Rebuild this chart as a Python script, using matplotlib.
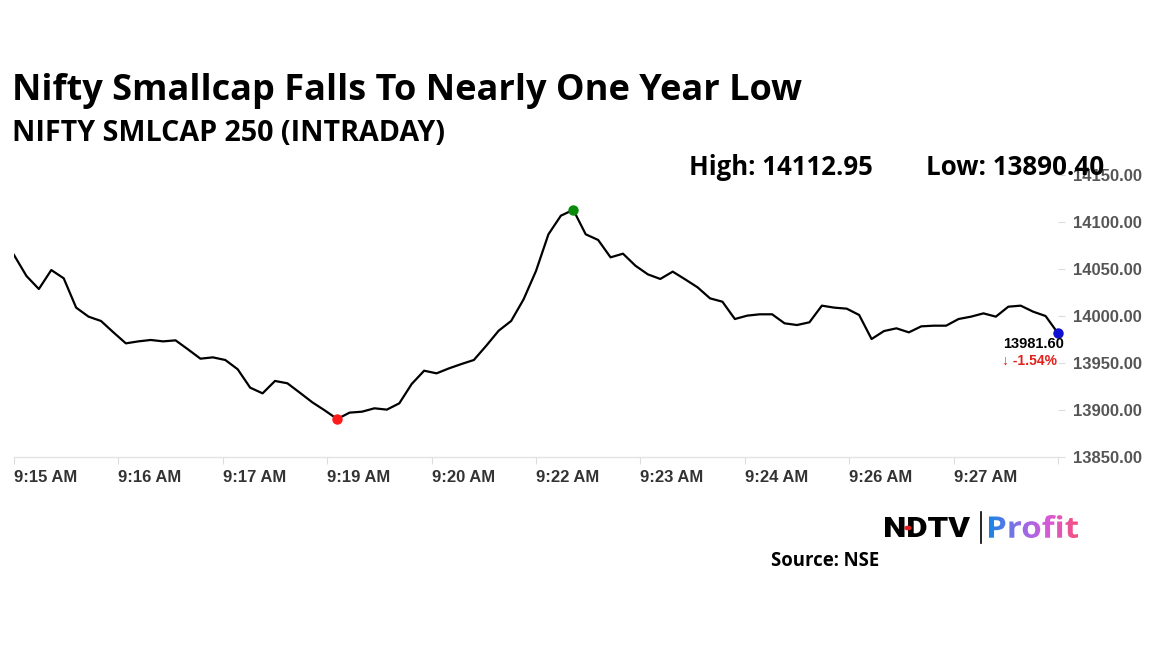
import numpy as np
import matplotlib
matplotlib.use("Agg")
import matplotlib.pyplot as plt
from matplotlib.textpath import TextPath
from matplotlib.patches import PathPatch, Circle
from matplotlib.font_manager import FontProperties
from matplotlib.colors import LinearSegmentedColormap

# ---------------- data ----------------
title = "Nifty Smallcap Falls To Nearly One Year Low"
subtitle = "NIFTY SMLCAP 250 (INTRADAY)"
high_value = 14112.95
low_value = 13890.40
last_value = 13981.60
change_pct = -1.54
source_text = "Source: NSE"

prices = [
    14064.9, 14042.6, 14028.7, 14048.9, 14040.1, 14008.9, 13999.3, 13994.7, 13982.6, 13970.9,
    13973.0, 13974.5, 13973.0, 13974.1, 13964.5, 13954.6, 13956.0, 13953.2, 13943.3, 13923.8,
    13917.7, 13930.9, 13928.4, 13918.4, 13908.2, 13899.6, 13890.4, 13897.2, 13898.2, 13901.8,
    13900.4, 13907.1, 13927.7, 13941.8, 13939.0, 13944.3, 13948.9, 13953.2, 13968.4, 13984.4,
    13994.7, 14017.7, 14047.9, 14086.9, 14106.7, 14112.95, 14086.9, 14080.9, 14062.4, 14066.3,
    14053.5, 14044.3, 14039.4, 14047.2, 14039.0, 14030.5, 14018.8, 14015.2, 13996.8, 14000.4,
    14001.8, 14001.8, 13992.2, 13990.4, 13993.3, 14011.0, 14008.9, 14007.8, 14001.1, 13975.5,
    13984.0, 13986.9, 13982.6, 13989.0, 13989.7, 13989.7, 13996.8, 13999.3, 14002.8, 13999.3,
    14009.9, 14011.0, 14004.6, 14000.0, 13981.6,
]
x_tick_labels = ["9:15 AM", "9:16 AM", "9:17 AM", "9:19 AM", "9:20 AM",
                 "9:22 AM", "9:23 AM", "9:24 AM", "9:26 AM", "9:27 AM", ""]
y_ticks = [13850, 13900, 13950, 14000, 14050, 14100, 14150]

# ---------------- figure ----------------
W, H = 1152, 648
fig = plt.figure(figsize=(W / 100, H / 100), dpi=100)
fig.patch.set_facecolor("white")


def fx(px):
    return px / W


def fy(py):
    return 1 - py / H


FONT = ["Open Sans", "DejaVu Sans"]
ARIAL = ["Liberation Sans", "DejaVu Sans"]

ax = fig.add_axes([fx(14), fy(457), fx(1058) - fx(14), fy(175) - fy(457)])
x = np.arange(len(prices))
ax.plot(x, prices, color="black", lw=1.6, zorder=3)

i_hi = int(np.argmax(prices))
i_lo = int(np.argmin(prices))
ax.plot(i_hi, prices[i_hi], "o", color="#0a8a0a", ms=6.5, zorder=4, clip_on=False)
ax.plot(i_lo, prices[i_lo], "o", color="#ff1a1a", ms=6.5, zorder=4, clip_on=False)
ax.plot(x[-1], prices[-1], "o", color="#1010d0", ms=6.5, zorder=4, clip_on=False)

ax.set_xlim(0, len(prices) - 1)
ax.set_ylim(y_ticks[0], y_ticks[-1])
for s in ["top", "left", "right"]:
    ax.spines[s].set_visible(False)
ax.spines["bottom"].set_color("#e3e3e3")
ax.spines["bottom"].set_linewidth(1.0)

ax.set_xticks(np.linspace(0, len(prices) - 1, len(x_tick_labels)))
ax.set_xticklabels(x_tick_labels, ha="left", fontweight="bold", family=ARIAL)
ax.tick_params(axis="x", length=5, color="#dddddd", pad=4, labelsize=12, labelcolor="#333333")

ax.yaxis.tick_right()
ax.set_yticks(y_ticks)
ax.set_yticklabels([f"{v:.2f}" for v in y_ticks], fontweight="bold", family=ARIAL)
ax.tick_params(axis="y", length=5, color="#dddddd", pad=6, labelsize=12, labelcolor="#555555")
ax.grid(False)

renderer = fig.canvas.get_renderer()


def place(text, x_px, base_px, width_px, size_guess, **kw):
    t = fig.text(fx(x_px), fy(base_px), text, fontsize=size_guess,
                 ha="left", va="baseline", **kw)
    w = t.get_window_extent(renderer).width
    t.set_fontsize(size_guess * width_px / w)
    return t


place(title, 12, 100, 791, 24, fontweight="bold", family=FONT, color="black")
place(subtitle, 12, 141, 434, 16, fontweight="bold", family=FONT, color="black")
place(f"High: {high_value:.2f}", 689, 175, 184, 14, fontweight="bold", family=FONT, color="black")
place(f"Low: {low_value:.2f}", 926, 175, 179, 14, fontweight="bold", family=FONT, color="black")
place(source_text, 771, 566, 108, 11, fontweight="bold", family=FONT, color="black")

# end-of-line annotation
fig.text(fx(1064), fy(344), f"{last_value:.2f}", ha="right", va="center",
         fontsize=10.5, fontweight="bold", family=ARIAL, color="black")
fig.text(fx(1057), fy(361), f"\u2193 {change_pct:.2f}%", ha="right", va="center",
         fontsize=10, fontweight="bold", family=ARIAL, color="#e3201b")


# ---------------- logo ----------------
def path_box(text, box, prop):
    x0, y0, x1, y1 = box  # pixel coords (top-left origin)
    lax = fig.add_axes([fx(x0), fy(y1), fx(x1) - fx(x0), fy(y0) - fy(y1)])
    lax.axis("off")
    tp = TextPath((0, 0), text, size=1, prop=prop)
    bb = tp.get_extents()
    lax.set_xlim(bb.x0, bb.x1)
    lax.set_ylim(bb.y0, bb.y1)
    return lax, tp, bb


lax, tp, bb = path_box("NDTV", (885, 517, 970, 537),
                       FontProperties(family=["Roboto", "DejaVu Sans"], weight="black"))
lax.add_patch(PathPatch(tp, facecolor="black", edgecolor="none"))
fig.add_artist(Circle((fx(908), fy(528)), 3 / W, transform=fig.transFigure,
                      color="#e02020", zorder=10))
fig.add_artist(plt.Line2D([fx(981), fx(981)], [fy(512), fy(543)], color="black", lw=1.2))

lax2, tp2, bb2 = path_box("Profit", (989, 515, 1078, 538),
                          FontProperties(family=["Open Sans", "DejaVu Sans"], weight="bold"))
patch = PathPatch(tp2, facecolor="none", edgecolor="none")
lax2.add_patch(patch)
grad_cmap = LinearSegmentedColormap.from_list("g", ["#1a84e6", "#8d6ee6", "#d85ad8", "#f4507c"])
grad = np.linspace(0, 1, 256).reshape(1, -1)
im = lax2.imshow(grad, cmap=grad_cmap, extent=[bb2.x0, bb2.x1, bb2.y0, bb2.y1],
                 aspect="auto", origin="lower")
im.set_clip_path(patch)

fig.savefig("out.png", dpi=100, facecolor="white")
